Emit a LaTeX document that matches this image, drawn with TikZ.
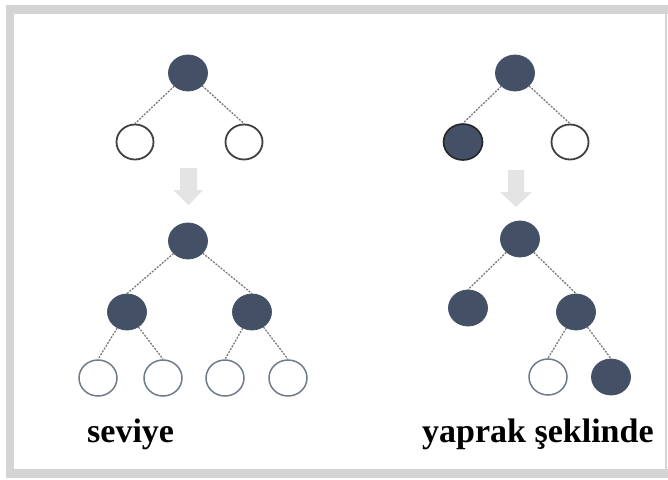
\documentclass[tikz,border=0pt]{standalone}
\usepackage{fontspec}
\setmainfont{Liberation Serif}
\usetikzlibrary{shapes.geometric}

\definecolor{nodefill}{HTML}{435066}
\definecolor{framegray}{HTML}{D4D4D4}
\definecolor{arrowgray}{HTML}{E4E4E4}
\definecolor{linkgray}{HTML}{7C7C7C}
\definecolor{leafrim}{HTML}{707A8A}

\begin{document}
\begin{tikzpicture}[x=1pt,y=-1pt,
  full/.style={ellipse, minimum width=39pt, minimum height=36pt, inner sep=0pt,
               fill=nodefill, draw=nodefill, line width=0.8pt},
  fullrim/.style={full, draw=black!85, line width=1.6pt},
  hollowdark/.style={ellipse, minimum width=37pt, minimum height=35pt, inner sep=0pt,
                     fill=white, draw=black!75, line width=1.8pt},
  hollow/.style={ellipse, minimum width=38pt, minimum height=36pt, inner sep=0pt,
                 fill=white, draw=leafrim, line width=1.5pt},
  link/.style={draw=linkgray, line width=1.3pt, dash pattern=on 2pt off 1.3pt},
  caption/.style={anchor=base west, inner sep=0pt,
                  font=\bfseries\fontsize{34}{40}\selectfont}]
\useasboundingbox (0,0) rectangle (668,479);

% grey frame
\fill[framegray] (6,5) rectangle (668,478);
\fill[white] (14,14) rectangle (665,469);
\fill[white] (667,14) rectangle (668,469);

% ---------- left: level-wise growth ----------
\node[full] (la) at (188,73) {};
\node[hollowdark] (lb) at (135,142) {};
\node[hollowdark] (lc) at (244,142) {};
\draw[link] (la) -- (lb.north);
\draw[link] (la) -- (lc.north);

\fill[arrowgray] (180,168) -- (197,168) -- (197,190) -- (203,190) -- (188.5,205)
  -- (173,190) -- (180,190) -- cycle;

\node[full] (ld) at (188,241) {};
\node[full] (le) at (127,312) {};
\node[full] (lf) at (252,312) {};
\node[hollow] (lg) at (98,378) {};
\node[hollow] (lh) at (163,378) {};
\node[hollow] (li) at (225,378) {};
\node[hollow] (lj) at (288,378) {};
\draw[link] (ld) -- (le.north);
\draw[link] (ld) -- (lf.north);
\draw[link] (le) -- (lg.north);
\draw[link] (le) -- (lh.north);
\draw[link] (lf) -- (li.north);
\draw[link] (lf) -- (lj.north);

\node[caption] (lt) at (87,442) {seviye};

% ---------- right: leaf-wise growth ----------
\node[full] (ra) at (515,73) {};
\node[fullrim] (rb) at (463,142) {};
\node[hollowdark] (rc) at (570,142) {};
\draw[link] (ra) -- (rb.north);
\draw[link] (ra) -- (rc.north);

\fill[arrowgray] (508,170) -- (524,170) -- (524,192) -- (532,192) -- (516,207)
  -- (500,192) -- (508,192) -- cycle;

\node[full] (rd) at (520,239) {};
\node[full] (re) at (468,308) {};
\node[full] (rf) at (576,312) {};
\node[hollow] (rg) at (548,377) {};
\node[full] (rh) at (611,377) {};
\draw[link] (rd) -- (re.north);
\draw[link] (rd) -- (rf.north);
\draw[link] (rf) -- (rg.north);
\draw[link] (rf) -- (rh.north);

\node[caption] (rt) at (422,442) {yaprak şeklinde};
\end{tikzpicture}
\end{document}
